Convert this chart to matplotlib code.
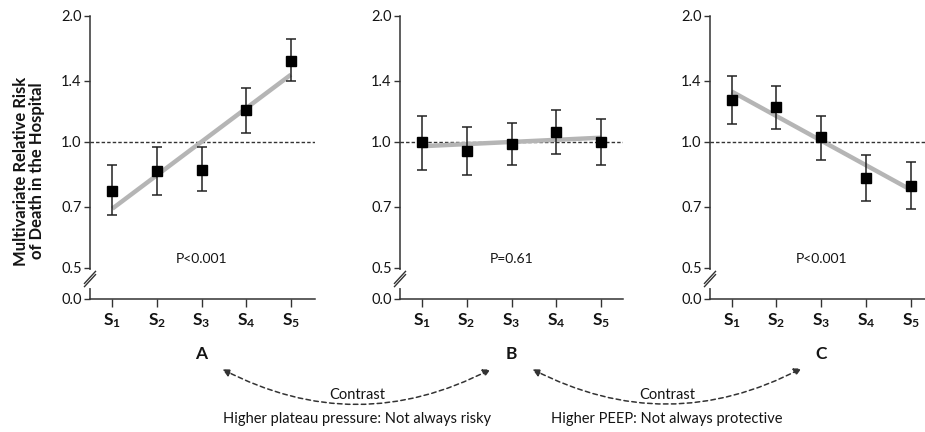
import numpy as np
import matplotlib.pyplot as plt
from matplotlib.patches import FancyArrowPatch
from matplotlib.transforms import blended_transform_factory

plt.rcParams['font.family'] = ['Lato', 'DejaVu Sans']
plt.rcParams['mathtext.fontset'] = 'custom'
plt.rcParams['mathtext.bf'] = 'Lato:bold'
plt.rcParams['mathtext.rm'] = 'Lato'

# strata of plateau pressure / PEEP
strata = [r'$\mathbf{S_1}$', r'$\mathbf{S_2}$', r'$\mathbf{S_3}$',
          r'$\mathbf{S_4}$', r'$\mathbf{S_5}$']
panel_names = ['A', 'B', 'C']
p_values = ['P<0.001', 'P=0.61', 'P<0.001']

# relative risk, lower / upper CI, trend line ends (S1, S5)
rr_a = [0.765, 0.851, 0.859, 1.19, 1.564]
lo_a = [0.668, 0.748, 0.762, 1.052, 1.395]
hi_a = [0.879, 0.971, 0.971, 1.346, 1.76]
trend_a = [0.693, 1.448]

rr_b = [0.998, 0.952, 0.991, 1.057, 1.0]
lo_b = [0.857, 0.836, 0.883, 0.936, 0.883]
hi_b = [1.152, 1.084, 1.113, 1.192, 1.137]
trend_b = [0.977, 1.024]

rr_c = [1.262, 1.212, 1.028, 0.82, 0.786]
lo_c = [1.102, 1.074, 0.907, 0.724, 0.69]
hi_c = [1.44, 1.358, 1.156, 0.932, 0.896]
trend_c = [1.32, 0.769]

y_ticks = [0.5, 0.7, 1.0, 1.4, 2.0]
y_ticklabels = ['0.5', '0.7', '1.0', '1.4', '2.0']
contrast_notes = ['Higher plateau pressure: Not always risky',
                  'Higher PEEP: Not always protective']

W, H = 925, 432
fig = plt.figure(figsize=(W / 100, H / 100), dpi=100)

def fx(px):
    return px / W

def fy(px):
    return 1 - px / H

y_floor = 0.4216  # where "0.0" sits below the axis break
boxes = [(90, 315, (0.5, 5.54)), (400, 623, (0.52, 5.48)), (710, 925, (0.515, 5.32))]
series = [(rr_a, lo_a, hi_a, trend_a), (rr_b, lo_b, hi_b, trend_b),
          (rr_c, lo_c, hi_c, trend_c)]
top_px, bot_px = 16, 299
ink = '#141414'

x = np.arange(1, 6)
for i, ((l, r, xl), (rr, lo, hi, tr)) in enumerate(zip(boxes, series)):
    ax = fig.add_axes([fx(l), fy(bot_px), (r - l) / W, (bot_px - top_px) / H])
    ax.set_yscale('log')
    ax.set_ylim(y_floor, 2.0)
    ax.set_xlim(*xl)
    for s in ['top', 'right']:
        ax.spines[s].set_visible(False)
    for s in ['left', 'bottom']:
        ax.spines[s].set_color('#333333')
        ax.spines[s].set_linewidth(1.1)
    ax.spines['bottom'].set_zorder(5)
    ax.spines['left'].set_zorder(5)

    ax.yaxis.set_minor_locator(plt.NullLocator())
    ax.set_yticks(y_ticks + [y_floor])
    ax.set_yticklabels(y_ticklabels + ['0.0'])
    ax.set_xticks(x)
    ax.set_xticklabels(strata)
    ax.tick_params(axis='y', length=4.5, width=1.0, pad=1.5, labelsize=10.5,
                   color='#333333', labelcolor=ink)
    ax.tick_params(axis='x', length=5.5, width=1.0, pad=3, labelsize=12.5,
                   color='#333333', labelcolor=ink)

    ax.axhline(1.0, color='#333333', lw=1.0, ls=(0, (2.5, 1.5)), zorder=1)
    ax.plot([1, 5], tr, color='#b5b5b5', lw=3.2, solid_capstyle='butt', zorder=2)
    yerr = [np.array(rr) - np.array(lo), np.array(hi) - np.array(rr)]
    ax.errorbar(x, rr, yerr=yerr, fmt='s', color='black', ms=7, mec='black',
                ecolor='#222222', elinewidth=1.1, capsize=3.5, capthick=1.1,
                zorder=3)
    ax.text(3, 0.525, p_values[i], ha='center', va='center', fontsize=10,
            color=ink)

    # axis break on the y spine
    aw = (r - l)
    ah = (bot_px - top_px)
    yb = (bot_px - 279) / ah
    ax.plot([0, 0], [yb - 7 / ah, yb + 7 / ah], transform=ax.transAxes,
            color='white', lw=3, clip_on=False, zorder=6)
    for off in (-1.6, 1.6):
        ax.plot([(-5.5) / aw, 5.5 / aw],
                [yb - 6 / ah + off / ah, yb + 6 / ah + off / ah],
                transform=ax.transAxes, color='#333333', lw=1.0,
                clip_on=False, zorder=7)

    tr_blend = blended_transform_factory(ax.transData, fig.transFigure)
    ax.text(3, fy(354), panel_names[i], transform=tr_blend, ha='center',
            va='center', fontsize=12.5, fontweight='bold', color=ink)

# contrast arrows between panels
arrow_ends = [((220, 368), (493, 368)), ((530, 368), (804, 367))]
note_x = [357, 667]
for (pa, pb), nx, note in zip(arrow_ends, note_x, contrast_notes):
    arr = FancyArrowPatch((fx(pa[0]), fy(pa[1])), (fx(pb[0]), fy(pb[1])),
                          transform=fig.transFigure,
                          connectionstyle='arc3,rad=0.264',
                          arrowstyle='<|-|>', mutation_scale=11,
                          color='#333333', lw=1.1, ls=(0, (3, 2.2)))
    fig.add_artist(arr)
    fig.text(fx(nx), fy(395), 'Contrast', ha='center', va='center',
             fontsize=10.5, color=ink)
    fig.text(fx(nx), fy(419), note, ha='center', va='center',
             fontsize=10.5, color=ink)

fig.text(fx(29), fy(171), 'Multivariate Relative Risk\nof Death in the Hospital',
         rotation=90, ha='center', va='center', fontsize=12,
         fontweight='bold', color=ink, linespacing=1.05)

fig.savefig('out.png', dpi=100)
